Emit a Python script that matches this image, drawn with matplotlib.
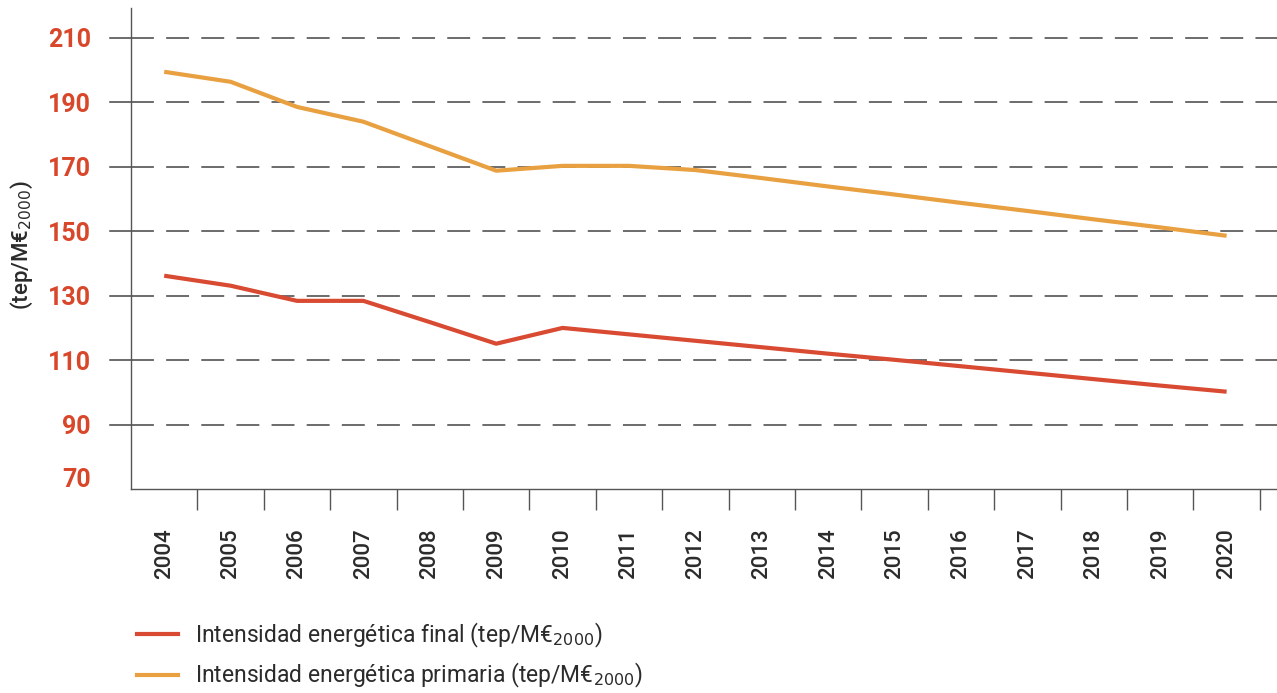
import matplotlib.pyplot as plt
from matplotlib.lines import Line2D

years = ['2004', '2005', '2006', '2007', '2008', '2009', '2010', '2011', '2012',
         '2013', '2014', '2015', '2016', '2017', '2018', '2019', '2020']
final = [136.2, 133.1, 128.4, 128.4, 121.8, 115.1, 120.0, 118.0, 116.0,
         114.0, 112.0, 110.1, 108.1, 106.1, 104.1, 102.1, 100.2]
primaria = [199.5, 196.4, 188.6, 184.0, 176.4, 168.8, 170.3, 170.3, 169.0,
            166.5, 163.9, 161.4, 158.8, 156.3, 153.7, 151.2, 148.6]

red = '#d94a32'
orange = '#e8a040'
label_red = '#d9472b'
txt = '#2b2b2b'

plt.rcParams['font.family'] = ['Roboto', 'DejaVu Sans']

fig = plt.figure(figsize=(12.77, 6.93), dpi=100)
ax = fig.add_axes([131/1277, 1 - 489/693, 1 - 131/1277, 481/693])

x = range(len(years))
ax.plot(x, final, color=red, lw=3, solid_capstyle='butt', zorder=3)
ax.plot(x, primaria, color=orange, lw=3, solid_capstyle='butt', zorder=3)

ax.set_xlim(-0.5, -0.5 + 1146/66.4)
ax.set_ylim(70, 219.3)

yt = [90, 110, 130, 150, 170, 190, 210]
ax.set_yticks(yt)
ax.set_yticklabels([str(v) for v in yt], color=label_red, fontsize=18, fontweight='bold')
ax.tick_params(axis='y', length=0, pad=29)
for v in yt:
    ax.axhline(v, color='#444444', lw=1.1, dashes=(15, 8), zorder=1)
    ax.plot([-0.5 - 21/66.4, -0.5], [v, v], color='#444444', lw=1.1, clip_on=False)
# 70 sits a little above the axis line
ax.annotate('70', xy=(0, 70), xycoords=('axes fraction', 'data'), xytext=(-29, 6.5),
            textcoords='offset points', ha='right', va='center',
            color=label_red, fontsize=18, fontweight='bold')

ax.set_xticks(list(x))
ax.set_xticklabels(years, rotation=90, fontsize=16, color=txt, fontweight='medium')
ax.tick_params(axis='x', length=0, pad=28)
ax.set_xticks([k + 0.5 for k in range(len(years))], minor=True)
ax.tick_params(axis='x', which='minor', length=15, width=1, color='#555555')

for s in ['top', 'right']:
    ax.spines[s].set_visible(False)
for s in ['left', 'bottom']:
    ax.spines[s].set_color('#555555')
    ax.spines[s].set_linewidth(1)

fig.text(0.017, 1 - 245/693, '(tep/M€$_{2000}$)', rotation=90, fontsize=16,
         color=txt, ha='center', va='center', fontweight='medium')

handles = [Line2D([], [], color=red, lw=3), Line2D([], [], color=orange, lw=3)]
labels = ['Intensidad energética final (tep/M€$_{2000}$)',
          'Intensidad energética primaria (tep/M€$_{2000}$)']
leg = fig.legend(handles, labels, loc='lower left', bbox_to_anchor=(0.091, -0.026),
                 frameon=False, fontsize=16.5, handlelength=1.8, handletextpad=0.75,
                 labelspacing=0.5)
for t in leg.get_texts():
    t.set_color(txt)

fig.savefig('out.png', dpi=100)
